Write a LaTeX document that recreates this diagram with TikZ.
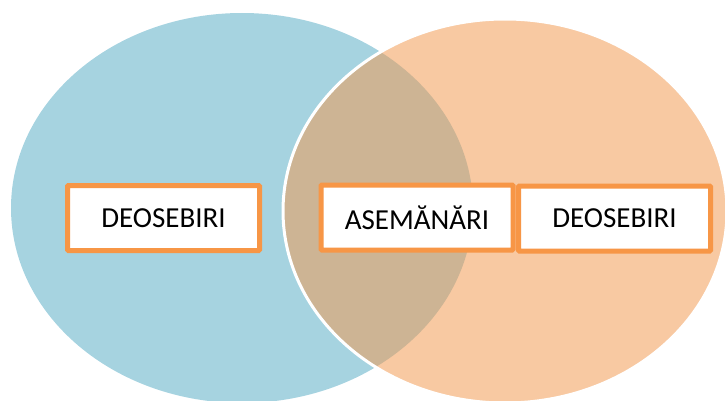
\documentclass[tikz,border=0pt]{standalone}
\usepackage{fontspec}
\setmainfont{Carlito}
\definecolor{vennblue}{HTML}{A6D3E0}
\definecolor{vennorange}{HTML}{F8C9A2}
\definecolor{vennmix}{HTML}{CDB494}
\definecolor{boxline}{HTML}{F79646}
\begin{document}
\begin{tikzpicture}[x=1pt,y=-1pt,
  labelbox/.style={draw=boxline, line width=5pt, fill=white, rounded corners=1pt,
    minimum width=192pt, minimum height=65pt, inner sep=0pt,
    font=\fontsize{29}{33}\selectfont, text=black}]
\useasboundingbox (0,0) rectangle (725,401);
\begin{scope}
  \clip (0,0) rectangle (725,401);
  % the two sets
  \fill[vennblue] (242,208) ellipse [x radius=231pt, y radius=195pt];
  \fill[vennorange] (505,211) ellipse [x radius=222pt, y radius=192pt];
  % their intersection
  \begin{scope}
    \clip (242,208) ellipse [x radius=231pt, y radius=195pt];
    \fill[vennmix] (505,211) ellipse [x radius=222pt, y radius=192pt];
  \end{scope}
  % white rim of the right set
  \draw[white, line width=3pt] (505,211) ellipse [x radius=222pt, y radius=192pt];
\end{scope}
% labels
\node[labelbox] (diffA) at (163.5,218) {DEOSEBIRI};
\node[labelbox] (common) at (417,217.5) {ASEMĂNĂRI};
\node[labelbox] (diffB) at (614.5,218.5) {DEOSEBIRI};
\end{tikzpicture}
\end{document}
